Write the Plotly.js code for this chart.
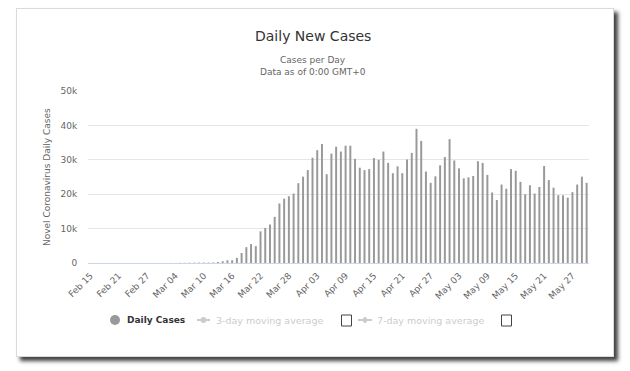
<!DOCTYPE html>
<html>
<head>
<meta charset="utf-8">
<script src="https://cdn.plot.ly/plotly-3.0.1.min.js"></script>
<style>
  html, body { margin: 0; padding: 0; background: #ffffff; width: 630px; height: 371px; overflow: hidden; }
  #frame { position: absolute; left: 16px; top: 8px; width: 596px; height: 347px; border: 1px solid #dadada; box-shadow: 4px 4px 4px rgba(0,0,0,0.75); background: #fff; }
  #chart { position: absolute; left: 0; top: 0; width: 630px; height: 371px; }
</style>
</head>
<body>
<div id="frame"></div>
<div id="chart"></div>
<script>
// ---- data ----
const months = ["Feb", "Mar", "Apr", "May"];
const monthStartDay = [15, 1, 1, 1];
const monthEndDay = [29, 31, 30, 30];

const febCases = [0, 0, 0, 0, 0, 0, 2, 0, 0, 0, 0, 0, 0, 0, 1];
const marCases = [3, 20, 20, 30, 60, 50, 90, 100, 120, 130, 140, 150,
  300, 500, 800, 800, 1500, 2900, 4600, 5500, 4900, 9200, 10200, 11200, 13400,
  17300, 18700, 19400, 20200, 23200, 25100];
const aprCases = [27000, 30600, 32800, 34600, 25800, 31800,
  33800, 32400, 34100, 34100, 30300, 27700, 27000, 27300, 30500, 30000, 32400, 29100, 26100,
  28100, 26100, 30100, 32000, 39000, 35500, 26600, 23300, 25200, 28400, 30800];
const mayCases = [36000, 29800,
  27500, 24600, 24900, 25300, 29600, 29100, 25600, 20500, 18300, 22800, 21600, 27300,
  26800, 23600, 20000, 22600, 20200, 22100, 28200, 24100, 21900, 19700, 19700, 19000, 20600, 22800, 25100, 23300];

const yTickVals = [0, 10000, 20000, 30000, 40000, 50000];
const yTickText = ["0", "10k", "20k", "30k", "40k", "50k"];

// category labels
const dates = [];
months.forEach((m, k) => {
  for (let d = monthStartDay[k]; d <= monthEndDay[k]; d++) {
    dates.push(m + " " + String(d).padStart(2, "0"));
  }
});
const dailyCases = [].concat(febCases, marCases, aprCases, mayCases);
const xTickVals = dates.filter((_, i) => i % 6 === 0);

// ---- layout helpers (pixel -> paper) ----
const L = 88, R = 41, T = 91, B = 108, W = 630, H = 371;
const PW = W - L - R, PH = H - T - B;
const px = x => (x - L) / PW;
const py = y => (H - B - y) / PH;

const FONT = "DejaVu Sans, Verdana, sans-serif";

const trace = {
  type: "bar",
  x: dates,
  y: dailyCases,
  marker: { color: "#999999", line: { width: 0 } },
  showlegend: false,
  hoverinfo: "skip"
};

function ann(text, x, y, opts) {
  return Object.assign({
    text: text, xref: "paper", yref: "paper", x: px(x), y: py(y),
    showarrow: false, xanchor: "center", yanchor: "middle",
    font: { family: FONT, size: 9, color: "#666666" }, borderpad: 0
  }, opts || {});
}

const annotations = [
  ann("Daily New Cases", 312.5, 36, { font: { family: FONT, size: 14, color: "#333333" } }),
  ann("Cases per Day", 312.5, 60),
  ann("Data as of 0:00 GMT+0", 312.5, 72),
  ann("Novel Coronavirus Daily Cases", 47, 177, { textangle: -90 }),
  ann("<b>Daily Cases</b>", 126, 320, { xanchor: "left", font: { family: FONT, size: 9, color: "#333333" } }),
  ann("3-day moving average", 215, 320, { xanchor: "left", font: { family: FONT, size: 9.5, color: "#cccccc" } }),
  ann("7-day moving average", 376, 320, { xanchor: "left", font: { family: FONT, size: 9.5, color: "#cccccc" } })
];

function rectShape(x0, y0, x1, y1, fill, line, lw) {
  return { type: "rect", xref: "paper", yref: "paper", x0: px(x0), x1: px(x1), y0: py(y1), y1: py(y0),
           fillcolor: fill, line: { color: line, width: lw } };
}
function circleShape(cx, cy, r, fill) {
  return { type: "circle", xref: "paper", yref: "paper", x0: px(cx - r), x1: px(cx + r), y0: py(cy + r), y1: py(cy - r),
           fillcolor: fill, line: { width: 0 } };
}
function lineShape(x0, x1, y, color) {
  return { type: "line", xref: "paper", yref: "paper", x0: px(x0), x1: px(x1), y0: py(y), y1: py(y),
           line: { color: color, width: 2 } };
}

const shapes = [
  circleShape(115, 320, 5, "#999999"),
  lineShape(197, 210, 320, "#cccccc"),
  circleShape(203.5, 320, 3, "#cccccc"),
  rectShape(341.5, 315, 351.5, 326, "#ffffff", "#444444", 1),
  lineShape(358, 372, 320, "#cccccc"),
  { type: "path", xref: "paper", yref: "paper",
    path: "M" + px(365) + "," + py(316.5) + " L" + px(368.5) + "," + py(320) + " L" + px(365) + "," + py(323.5) + " L" + px(361.5) + "," + py(320) + " Z",
    fillcolor: "#cccccc", line: { width: 0 } },
  rectShape(501.5, 315, 511.5, 326, "#ffffff", "#444444", 1)
];

const layout = {
  width: W, height: H,
  margin: { l: L, r: R, t: T, b: B, pad: 0 },
  paper_bgcolor: "rgba(0,0,0,0)",
  plot_bgcolor: "rgba(0,0,0,0)",
  font: { family: FONT, size: 9, color: "#666666" },
  bargap: 0.58,
  showlegend: false,
  xaxis: {
    type: "category",
    range: [-0.5, dates.length - 0.5],
    tickmode: "array", tickvals: xTickVals, ticktext: xTickVals,
    tickangle: -45,
    tickfont: { family: FONT, size: 9, color: "#666666" },
    showgrid: false, zeroline: false,
    showline: true, linecolor: "#ccd6eb", linewidth: 1,
    ticks: "outside", ticklen: 3, tickcolor: "rgba(0,0,0,0)",
    fixedrange: true
  },
  yaxis: {
    range: [0, 50000],
    tickmode: "array", tickvals: yTickVals, ticktext: yTickText,
    tickfont: { family: FONT, size: 9, color: "#666666" },
    showgrid: true, gridcolor: "#e6e6e6", gridwidth: 1,
    zeroline: false, showline: false,
    ticks: "outside", ticklen: 8, tickcolor: "rgba(0,0,0,0)",
    fixedrange: true
  },
  annotations: annotations,
  shapes: shapes
};

Plotly.newPlot("chart", [trace], layout, { staticPlot: true, displayModeBar: false });
</script>
</body>
</html>
